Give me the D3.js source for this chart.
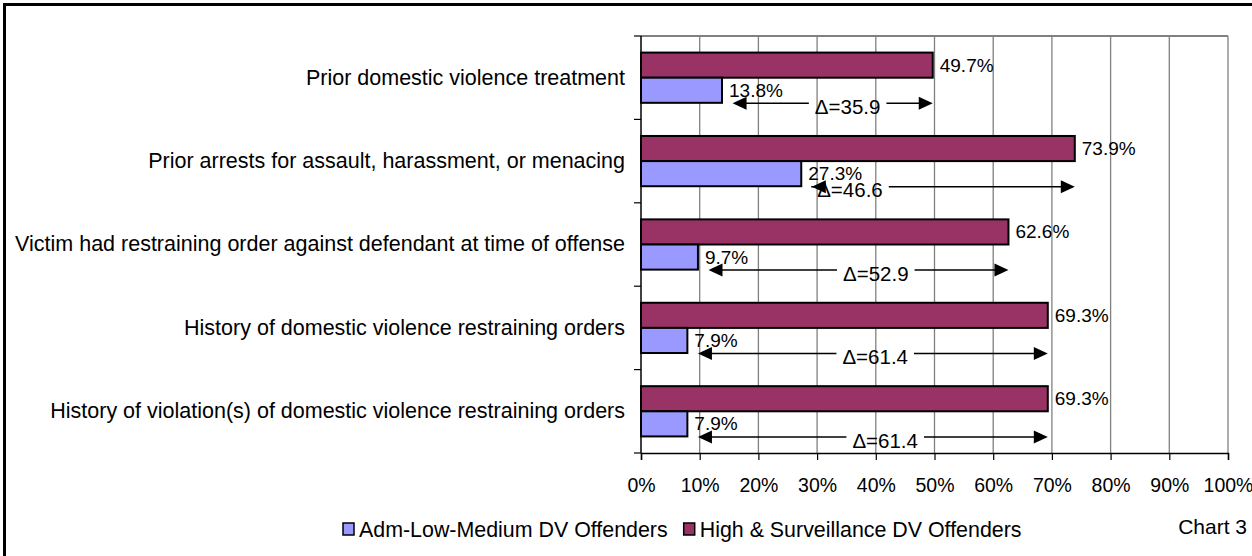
<!DOCTYPE html>
<html><head><meta charset="utf-8">
<script src="https://cdn.jsdelivr.net/npm/d3@7"></script>
<style>
html,body{margin:0;padding:0;background:#fff;}
text{font-family:"Liberation Sans",Arial,sans-serif;fill:#000;}
</style></head>
<body>
<svg id="chart" width="1252" height="556"></svg>
<script>
const categories = [
  "Prior domestic violence treatment",
  "Prior arrests for assault, harassment, or menacing",
  "Victim had restraining order against defendant at time of offense",
  "History of domestic violence restraining orders",
  "History of violation(s) of domestic violence restraining orders"
];
const seriesNames = ["Adm-Low-Medium DV Offenders", "High & Surveillance DV Offenders"];
const lowMedium = [13.8, 27.3, 9.7, 7.9, 7.9];
const highSurv = [49.7, 73.9, 62.6, 69.3, 69.3];
const xTicks = [0,10,20,30,40,50,60,70,80,90,100];
const deltaLabelAt = [35.2, 35.6, 40.0, 39.9, 41.6];
const chartLabel = "Chart 3";

const colors = {"Adm-Low-Medium DV Offenders":"#9999FF","High & Surveillance DV Offenders":"#993366"};
const svg = d3.select("#chart");
const FF = "Liberation Sans, Arial, sans-serif";

// outer frame
svg.append("rect").attr("x",4.5).attr("y",4.5).attr("width",1260).attr("height",570)
  .attr("fill","none").attr("stroke","#000").attr("stroke-width",3);

const plot = {left:641, right:1228, top:36, bottom:453};
const x = d3.scaleLinear().domain([0,100]).range([plot.left, plot.right]);
const y = d3.scaleBand().domain(categories).range([plot.top, plot.bottom]).padding(0);
const inner = d3.scaleBand().domain([seriesNames[1], seriesNames[0]]).range([0, y.bandwidth()]).paddingInner(0).paddingOuter(0.66);

// gridlines
svg.append("g").selectAll("line").data(xTicks.slice(1)).join("line")
  .attr("x1",d=>x(d)).attr("x2",d=>x(d)).attr("y1",plot.top).attr("y2",plot.bottom)
  .attr("stroke","#808080").attr("stroke-width",1.3);
svg.append("line").attr("x1",plot.left).attr("x2",plot.right).attr("y1",plot.top).attr("y2",plot.top)
  .attr("stroke","#808080").attr("stroke-width",2);

// x axis
const xAxis = d3.axisBottom(x).tickValues(xTicks).tickFormat(d=>d+"%").tickSize(7).tickPadding(18);
const gx = svg.append("g").attr("transform",`translate(0,${plot.bottom})`).call(xAxis);
gx.select(".domain").attr("stroke","#000").attr("stroke-width",1.5);
gx.selectAll(".tick line").attr("stroke","#000").attr("stroke-width",1.2);
gx.selectAll("text").attr("font-size",19.5).attr("font-family",FF).attr("fill","#000");

// y axis
const yAxis = d3.axisLeft(y).tickSize(0).tickPadding(16);
const gy = svg.append("g").attr("transform",`translate(${plot.left},0)`).call(yAxis);
gy.select(".domain").remove();
gy.selectAll("text").attr("font-size",21.5).attr("font-family",FF).attr("fill","#000");
const bounds = categories.map(c=>y(c)).concat([plot.bottom]);
svg.append("g").selectAll("line").data(bounds).join("line")
  .attr("x1",plot.left-7).attr("x2",plot.left).attr("y1",d=>d).attr("y2",d=>d)
  .attr("stroke","#000").attr("stroke-width",1.2);
svg.append("line").attr("x1",plot.left).attr("x2",plot.left).attr("y1",plot.top).attr("y2",plot.bottom)
  .attr("stroke","#000").attr("stroke-width",1.5);

// bars
const rows = categories.map((c,i)=>({cat:c, low:lowMedium[i], high:highSurv[i], lab:deltaLabelAt[i]}));
const barData = [];
rows.forEach(r=>{
  barData.push({cat:r.cat, s:seriesNames[1], v:r.high});
  barData.push({cat:r.cat, s:seriesNames[0], v:r.low});
});
svg.append("g").selectAll("rect").data(barData).join("rect")
  .attr("x",x(0)).attr("y",d=>y(d.cat)+inner(d.s))
  .attr("width",d=>x(d.v)-x(0)).attr("height",inner.bandwidth())
  .attr("fill",d=>colors[d.s]).attr("stroke","#000").attr("stroke-width",2);

// value labels
svg.append("g").selectAll("text").data(barData).join("text")
  .attr("x",d=>x(d.v)+7).attr("y",d=>y(d.cat)+inner(d.s)+inner.bandwidth()/2)
  .attr("dy","0.34em").attr("font-size",19).text(d=>d.v.toFixed(1)+"%");

// delta arrows
const ag = svg.append("g");
rows.forEach(r=>{
  const yy = y(r.cat) + inner(seriesNames[0]) + inner.bandwidth() + 0.5;
  const x1 = x(r.low + 1.8), x2 = x(r.high);
  const t = ag.append("text").attr("x",x(r.lab)).attr("y",yy).attr("dy","0.52em")
    .attr("text-anchor","middle").attr("font-size",20.5)
    .text("\u0394=" + (r.high - r.low).toFixed(1));
  const w = t.node().getComputedTextLength();
  const tl = x(r.lab) - w/2 - 6, tr = x(r.lab) + w/2 + 6;
  const ah = 14, aw = 6.5;
  ag.append("line").attr("x1",x1+ah-1).attr("x2",tl).attr("y1",yy).attr("y2",yy).attr("stroke","#000").attr("stroke-width",1.5);
  ag.append("line").attr("x1",tr).attr("x2",x2-ah+1).attr("y1",yy).attr("y2",yy).attr("stroke","#000").attr("stroke-width",1.5);
  ag.append("path").attr("d",`M${x1},${yy}L${x1+ah},${yy-aw}L${x1+ah},${yy+aw}Z`).attr("fill","#000");
  ag.append("path").attr("d",`M${x2},${yy}L${x2-ah},${yy-aw}L${x2-ah},${yy+aw}Z`).attr("fill","#000");
});

// legend
const lg = svg.append("g").attr("transform","translate(343,529)");
let lx = 0;
seriesNames.forEach(s=>{
  lg.append("rect").attr("x",lx).attr("y",-6).attr("width",11).attr("height",12)
    .attr("fill",colors[s]).attr("stroke","#000").attr("stroke-width",1.5);
  const t = lg.append("text").attr("x",lx+16).attr("y",0).attr("dy","0.36em").attr("font-size",21.4).text(s);
  lx += 16 + t.node().getComputedTextLength() + 16;
});
svg.append("text").attr("x",1247).attr("y",526).attr("dy","0.36em").attr("text-anchor","end")
  .attr("font-size",21).text(chartLabel);
</script>
</body></html>
